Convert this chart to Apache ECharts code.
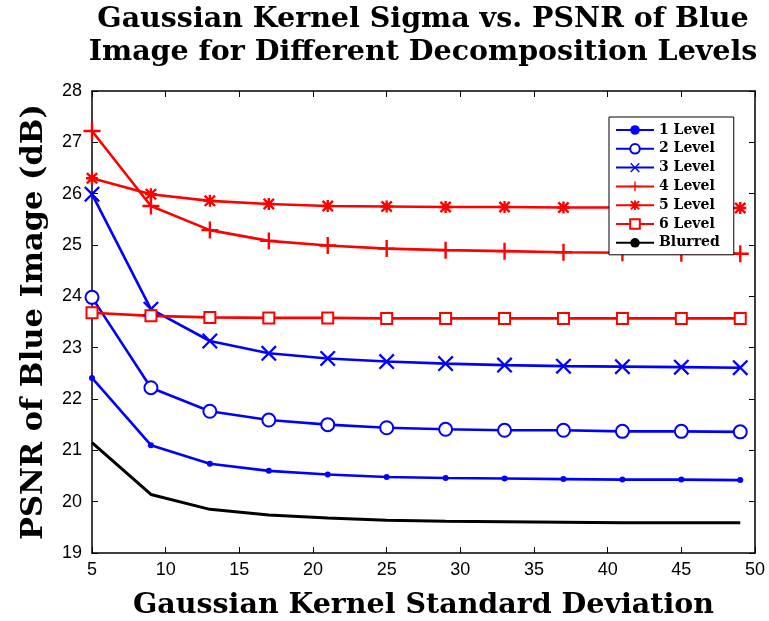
<!DOCTYPE html>
<html>
<head>
<meta charset="utf-8">
<script src="https://cdn.jsdelivr.net/npm/echarts@6/dist/echarts.min.js"></script>
<style>
  html, body { margin: 0; padding: 0; background: #fff; }
  #chart { width: 769px; height: 621px; }
</style>
</head>
<body>
<div id="chart"></div>
<script>
// sigma values (x axis)
const sigmas = [5, 9, 13, 17, 21, 25, 29, 33, 37, 41, 45, 49];

// PSNR (dB) per decomposition level
const level1 = [22.41, 21.10, 20.74, 20.60, 20.53, 20.48, 20.46, 20.45, 20.44, 20.43, 20.43, 20.42];
const level2 = [23.98, 22.22, 21.76, 21.59, 21.50, 21.44, 21.41, 21.39, 21.39, 21.37, 21.37, 21.36];
const level3 = [25.99, 23.75, 23.13, 22.89, 22.79, 22.73, 22.69, 22.66, 22.64, 22.63, 22.62, 22.61];
const level4 = [27.22, 25.76, 25.29, 25.08, 24.99, 24.93, 24.90, 24.88, 24.86, 24.85, 24.84, 24.83];
const level5 = [26.30, 25.99, 25.86, 25.80, 25.76, 25.75, 25.74, 25.74, 25.73, 25.73, 25.72, 25.72];
const level6 = [23.68, 23.62, 23.59, 23.58, 23.58, 23.57, 23.57, 23.57, 23.57, 23.57, 23.57, 23.57];
const blurred = [21.15, 20.14, 19.85, 19.74, 19.68, 19.64, 19.62, 19.61, 19.60, 19.59, 19.59, 19.59];

const seriesNames = ['1 Level', '2 Level', '3 Level', '4 Level', '5 Level', '6 Level', 'Blurred'];

const xTicks = [5, 10, 15, 20, 25, 30, 35, 40, 45, 50];
const yTicks = [19, 20, 21, 22, 23, 24, 25, 26, 27, 28];

// marker shapes (filled outlines)
const crossX = 'path://M0,1L1,0L5,4L9,0L10,1L6,5L10,9L9,10L5,6L1,10L0,9L4,5Z';
const plusP = 'path://M4.3,0H5.7V4.3H10V5.7H5.7V10H4.3V5.7H0V4.3H4.3Z';
const star = 'path://M4,0H6V4H10V6H6V10H4V6H0V4H4Z M0,1.4L1.4,0L5,3.6L8.6,0L10,1.4L6.4,5L10,8.6L8.6,10L5,6.4L1.4,10L0,8.6L3.6,5Z';

const chart = echarts.init(document.getElementById('chart'));

const serifBold = '"DejaVu Serif", "Liberation Serif", serif';

function mk(name, data, color, symbol, size, extra) {
  return Object.assign({
    name: name,
    type: 'line',
    data: sigmas.map((s, i) => [s, data[i]]),
    symbol: symbol,
    symbolSize: size,
    showSymbol: symbol !== 'none',
    lineStyle: { color: color, width: 2.6 },
    itemStyle: { color: color, borderColor: color, borderWidth: 0 },
    emphasis: { disabled: true },
    animation: false,
    z: 3
  }, extra || {});
}

const series = [
  mk(seriesNames[0], level1, '#0000ff', 'circle', 6),
  mk(seriesNames[1], level2, '#0000ff', 'emptyCircle', 13, {
    itemStyle: { color: '#0000ff', borderColor: '#0000ff', borderWidth: 2.4 }
  }),
  mk(seriesNames[2], level3, '#0000ff', crossX, 16),
  mk(seriesNames[3], level4, '#ff0000', plusP, 17),
  mk(seriesNames[4], level5, '#ff0000', star, 12),
  mk(seriesNames[5], level6, '#ff0000', 'emptyRect', 11, {
    itemStyle: { color: '#ff0000', borderColor: '#ff0000', borderWidth: 2.2 }
  }),
  mk(seriesNames[6], blurred, '#000000', 'none', 0, { lineStyle: { color: '#000', width: 3 } })
];

const axisText = { color: '#000', fontFamily: 'Liberation Sans, Arial, sans-serif', fontSize: 18 };

chart.setOption({
  backgroundColor: '#fff',
  animation: false,
  graphic: [
    {
      type: 'text',
      style: {
        x: 423, y: 3, textAlign: 'center',
        text: 'Gaussian Kernel Sigma vs. PSNR of Blue\nImage for Different Decomposition Levels',
        font: 'bold 28.5px ' + serifBold, fill: '#000', lineHeight: 33
      }
    }
  ],
  legend: {
    orient: 'vertical',
    left: 609,
    top: 117,
    data: seriesNames,
    backgroundColor: '#fff',
    borderColor: '#000',
    borderWidth: 1,
    padding: [6, 14, 5, 6],
    itemWidth: 38,
    itemHeight: 12,
    itemGap: 4.8,
    textStyle: { fontFamily: serifBold, fontWeight: 'bold', fontSize: 14, color: '#000' },
    selectedMode: false
  },
  grid: { left: 92, top: 91, right: 14, bottom: 68, containLabel: false, outerBoundsMode: 'none' },
  xAxis: [
    {
      type: 'value', min: 5, max: 50, interval: 5,
      name: 'Gaussian Kernel Standard Deviation',
      nameLocation: 'middle', nameGap: 38,
      nameTextStyle: { fontFamily: serifBold, fontWeight: 'bold', fontSize: 28.5, color: '#000' },
      axisLine: { show: true, lineStyle: { color: '#000', width: 1.5 } },
      axisTick: { show: true, inside: true, length: 6, lineStyle: { color: '#000' } },
      axisLabel: Object.assign({ margin: 8, formatter: v => xTicks.includes(v) ? String(v) : '' }, axisText),
      splitLine: { show: false }
    },
    {
      type: 'value', min: 5, max: 50, interval: 5, position: 'top',
      axisLine: { show: true, lineStyle: { color: '#000', width: 1.5 } },
      axisTick: { show: true, inside: true, length: 6, lineStyle: { color: '#000' } },
      axisLabel: { show: false },
      splitLine: { show: false }
    }
  ],
  yAxis: [
    {
      type: 'value', min: 19, max: 28, interval: 1,
      name: 'PSNR of Blue Image (dB)',
      nameLocation: 'middle', nameGap: 42,
      nameTextStyle: { fontFamily: serifBold, fontWeight: 'bold', fontSize: 30.5, color: '#000' },
      axisLine: { show: true, lineStyle: { color: '#000', width: 1.5 } },
      axisTick: { show: true, inside: true, length: 6, lineStyle: { color: '#000' } },
      axisLabel: Object.assign({ margin: 10, formatter: v => yTicks.includes(v) ? String(v) : '' }, axisText),
      splitLine: { show: false }
    },
    {
      type: 'value', min: 19, max: 28, interval: 1, position: 'right',
      axisLine: { show: true, lineStyle: { color: '#000', width: 1.5 } },
      axisTick: { show: true, inside: true, length: 6, lineStyle: { color: '#000' } },
      axisLabel: { show: false },
      splitLine: { show: false }
    }
  ],
  series: series
});
</script>
</body>
</html>
